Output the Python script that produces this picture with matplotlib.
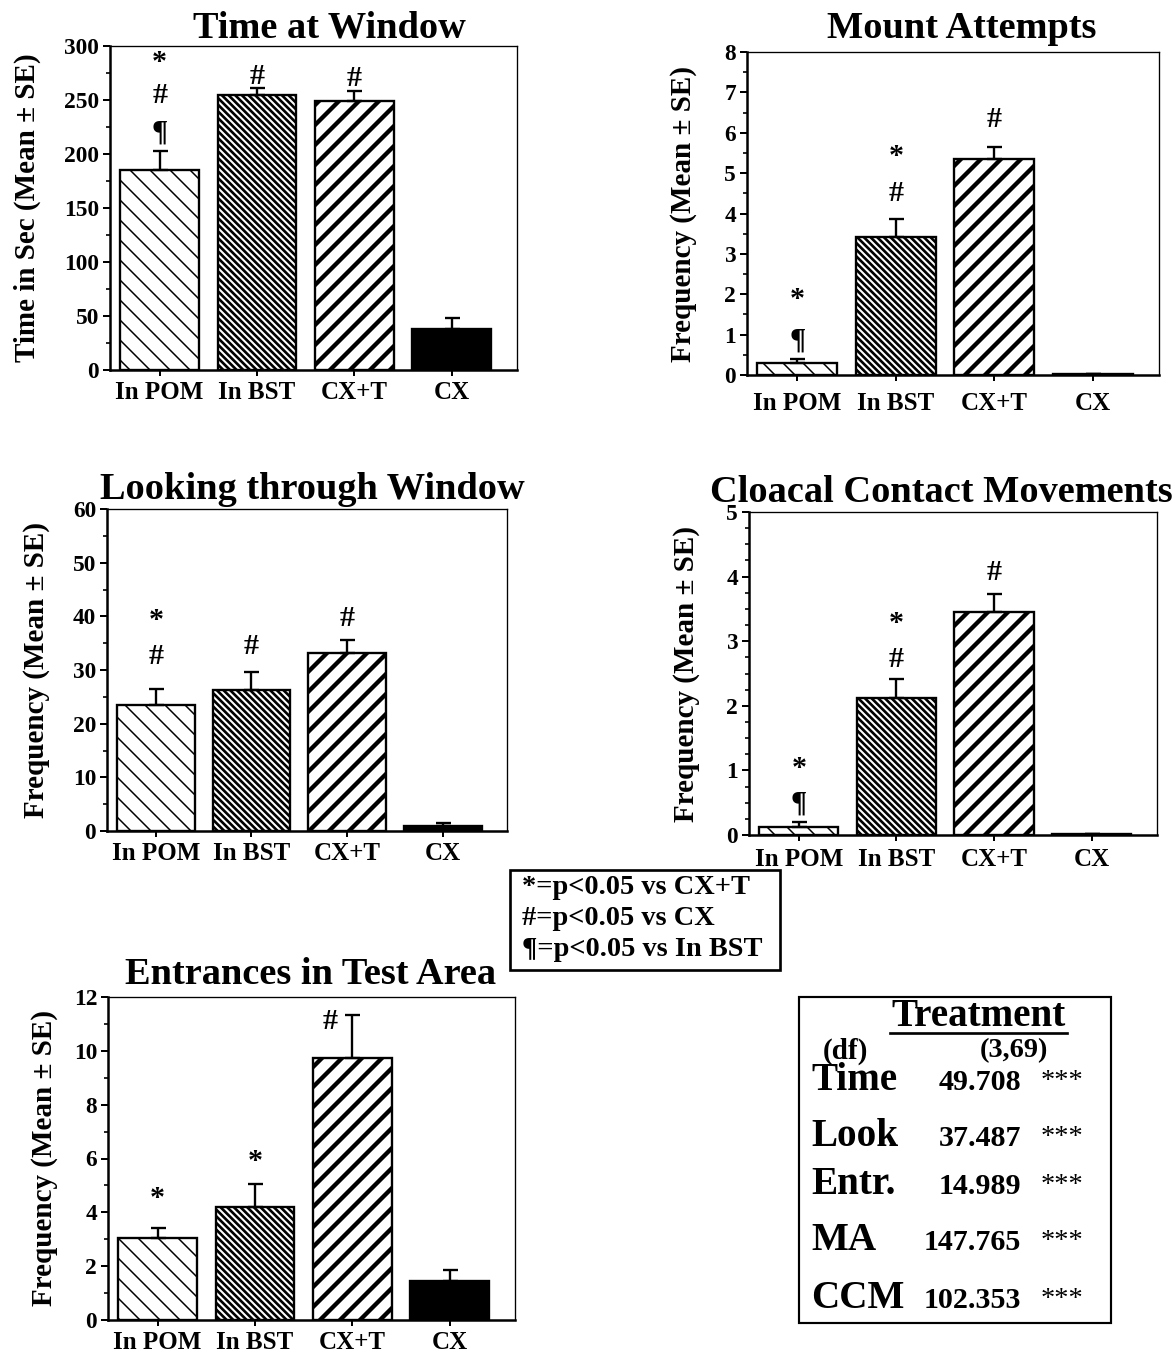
import matplotlib
matplotlib.use("Agg")
import matplotlib.pyplot as plt
from matplotlib.patches import Rectangle
from matplotlib.lines import Line2D
from matplotlib.ticker import MultipleLocator

# ---------------- data ----------------
groups = ['In POM', 'In BST', 'CX+T', 'CX']

time_mean = [185, 255, 249, 38]
time_se = [18, 6, 9, 10]

ma_mean = [0.29, 3.43, 5.35, 0.02]
ma_se = [0.10, 0.44, 0.29, 0.0]

look_mean = [23.4, 26.3, 33.2, 0.9]
look_se = [3.0, 3.4, 2.3, 0.65]

ccm_mean = [0.13, 2.12, 3.45, 0.01]
ccm_se = [0.07, 0.30, 0.28, 0.0]

entr_mean = [3.03, 4.21, 9.72, 1.45]
entr_se = [0.37, 0.83, 1.60, 0.41]

# significance marks: (x position, symbol, y)
time_marks = [(0, '*', 285), (0, '#', 254), (0, '¶', 220), (1, '#', 272), (2, '#', 270)]
ma_marks = [(0, '*', 1.86), (0, '¶', 0.87), (1, '*', 5.41), (1, '#', 4.5), (2, '#', 6.32)]
look_marks = [(0, '*', 39.3), (0, '#', 32.5), (1, '#', 34.3), (2, '#', 39.6)]
ccm_marks = [(0, '*', 1.03), (0, '¶', 0.49), (1, '*', 3.27), (1, '#', 2.72), (2, '#', 4.06)]
entr_marks = [(0, '*', 4.5), (1, '*', 5.9), (1.77, '#', 11.1)]

legend_lines = ['*=p<0.05 vs CX+T', '#=p<0.05 vs CX', '¶=p<0.05 vs In BST']

anova_title = 'Treatment'
anova_df = '(3,69)'
anova_measures = ['Time', 'Look', 'Entr.', 'MA', 'CCM']
anova_F = ['49.708', '37.487', '14.989', '147.765', '102.353']
anova_sig = ['***', '***', '***', '***', '***']

# ---------------- style ----------------
W, H = 1175, 1356
DPI = 120
plt.rcParams['font.family'] = ['Liberation Serif', 'DejaVu Serif']
plt.rcParams['font.weight'] = 'bold'
plt.rcParams['axes.labelweight'] = 'bold'
plt.rcParams['axes.titleweight'] = 'bold'

fig = plt.figure(figsize=(W / DPI, H / DPI), dpi=DPI)
fig.patch.set_facecolor('white')


def px(x, y):
    return x / W, 1 - y / H


def make_axes(left, top, right, bottom):
    return fig.add_axes([left / W, 1 - bottom / H, (right - left) / W, (bottom - top) / H])


hatches = ['\\' * 2, '\\' * 6, '/' * 2, None]
hatch_lw = [0.9, 1.6, 2.6, 1.0]
faces = ['white', 'white', 'white', 'black']


def panel(ax, means, ses, ylim, major, minor, title, ylabel, marks, title_xy, ylab_x, xpad=3):
    x = list(range(len(groups)))
    bars = ax.bar(x, means, width=0.81, color=faces, edgecolor='black', linewidth=1.4, zorder=2)
    for b, h, lw in zip(bars, hatches, hatch_lw):
        if h:
            b.set_hatch(h)
            if hasattr(b, 'set_hatch_linewidth'):
                b.set_hatch_linewidth(lw)
    ax.errorbar(x, means, yerr=[[0] * len(ses), ses], fmt='none', ecolor='black',
                elinewidth=1.4, capsize=4.5, capthick=1.4, zorder=3)
    ax.set_xlim(-0.51, 3.67)
    ax.set_ylim(*ylim)
    ax.yaxis.set_major_locator(MultipleLocator(major))
    ax.yaxis.set_minor_locator(MultipleLocator(minor))
    ax.set_xticks(x)
    ax.set_xticklabels(groups, fontsize=15, fontweight='bold')
    ax.tick_params(axis='y', which='major', direction='out', length=4, width=1.2,
                   labelsize=14, pad=2.5)
    ax.tick_params(axis='y', which='minor', direction='out', length=2.5, width=1.0)
    ax.tick_params(axis='x', which='major', direction='out', length=3.5, width=1.2, pad=xpad)
    for s in ['left', 'bottom']:
        ax.spines[s].set_linewidth(1.5)
    for s in ['top', 'right']:
        ax.spines[s].set_linewidth(0.8)
    ax.set_ylabel(ylabel, fontsize=17.5, fontweight='bold', va='center')
    ax.yaxis.set_label_coords(ylab_x, 0.5)
    for gx, sym, yv in marks:
        ax.text(gx, yv, sym, ha='center', va='center', fontsize=18, fontweight='bold', zorder=4)
    tx, ty = px(*title_xy)
    fig.text(tx, ty, title, ha='center', va='center', fontsize=23, fontweight='bold')


ax1 = make_axes(110, 46, 517, 370)
panel(ax1, time_mean, time_se, (0, 300), 50, 25, 'Time at Window',
      'Time in Sec (Mean ± SE)', time_marks, (329, 28), -0.204)

ax2 = make_axes(747, 52, 1159, 375)
panel(ax2, ma_mean, ma_se, (0, 8), 1, 0.5, 'Mount Attempts',
      'Frequency (Mean ± SE)', ma_marks, (962, 28), -0.155, xpad=7)

ax3 = make_axes(107, 509, 507, 831)
panel(ax3, look_mean, look_se, (0, 60), 10, 5, 'Looking through Window',
      'Frequency (Mean ± SE)', look_marks, (312, 490), -0.175)

ax4 = make_axes(749, 512, 1157, 835)
panel(ax4, ccm_mean, ccm_se, (0, 5), 1, 0.25, 'Cloacal Contact Movements',
      'Frequency (Mean ± SE)', ccm_marks, (941, 492), -0.152, xpad=4)

ax5 = make_axes(108, 997, 515, 1320)
panel(ax5, entr_mean, entr_se, (0, 12), 2, 1, 'Entrances in Test Area',
      'Frequency (Mean ± SE)', entr_marks, (311, 975), -0.155)

# ---------------- significance legend box ----------------
bx0, by0, bx1, by1 = 510, 870, 780, 970
fig.add_artist(Rectangle(px(bx0, by1), (bx1 - bx0) / W, (by1 - by0) / H,
                         transform=fig.transFigure, facecolor='white',
                         edgecolor='black', linewidth=1.6, zorder=5))
for i, line in enumerate(legend_lines):
    lx, ly = px(522, 888 + i * 30.5)
    fig.text(lx, ly, line, ha='left', va='center', fontsize=17, fontweight='bold', zorder=6)

# ---------------- ANOVA table box ----------------
tx0, ty0, tx1, ty1 = 799, 997, 1111, 1323
fig.add_artist(Rectangle(px(tx0, ty1), (tx1 - tx0) / W, (ty1 - ty0) / H,
                         transform=fig.transFigure, facecolor='white',
                         edgecolor='black', linewidth=1.3, zorder=5))
fig.text(*px(979, 1017), anova_title, ha='center', va='center', fontsize=23.5,
         fontweight='bold', zorder=6)
ux0, uy = px(890, 1033)
ux1, _ = px(1067, 1033)
fig.add_artist(Line2D([ux0, ux1], [uy, uy], transform=fig.transFigure, color='black',
                      linewidth=1.6, zorder=6))
fig.text(*px(845, 1051), '(df)', ha='center', va='center', fontsize=17.5, fontweight='bold', zorder=6)
fig.text(*px(1014, 1051), anova_df, ha='center', va='center', fontsize=17, fontweight='bold', zorder=6)
row_y = [1081, 1137, 1185, 1241, 1298]
for name, fval, sig, yy in zip(anova_measures, anova_F, anova_sig, row_y):
    fig.text(*px(811, yy), name, ha='left', va='center', fontsize=23.5, fontweight='bold', zorder=6)
    fig.text(*px(1021, yy + 2), fval, ha='right', va='center', fontsize=18, fontweight='bold', zorder=6)
    fig.text(*px(1041, yy + 1), sig, ha='left', va='center', fontsize=17, fontweight='normal', zorder=6)

fig.savefig('out.png', dpi=DPI, facecolor='white')
